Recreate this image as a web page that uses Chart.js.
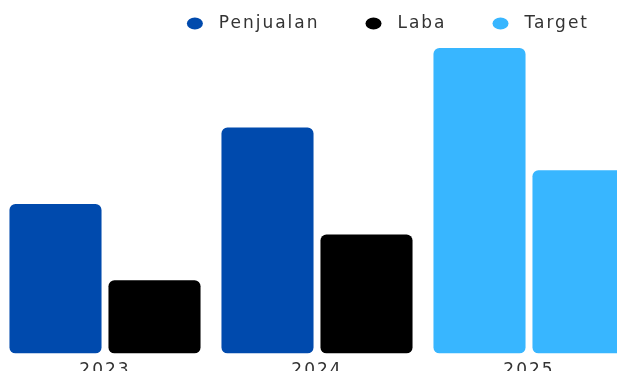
<!DOCTYPE html>
<html>
<head>
<meta charset="utf-8">
<script src="https://cdn.jsdelivr.net/npm/chart.js@4"></script>
<style>
  html, body { margin: 0; padding: 0; background: #fff; overflow: hidden; }
  /* chart is cropped on the left and right like the reference */
  #wrap { position: absolute; left: -1px; top: 0; }
</style>
</head>
<body>
<div id="wrap"><canvas id="salesChart" width="636" height="388"></canvas></div>
<script>
/* ─── DATA ─────────────────────────────────────────── */
const years       = ['2023', '2024', '2025'];
const penjualan   = [49, 74, 100];
const laba        = [24, 39, 60];
const targetYears = ['2025'];          // these years are shown as Target
const legendNames = ['Penjualan', 'Laba', 'Target'];

/* ─── COLORS ───────────────────────────────────────── */
const cPenjualan = '#004AAD';
const cLaba      = '#000000';
const cTarget    = '#38B6FF';
const cText      = '#333333';

// per-bar colors: target years get the light blue
const colorsFor = (base) => years.map(y => targetYears.includes(y) ? cTarget : base);

/* canvas letter spacing — reference font is wide */
const spacingPlugin = {
  id: 'spacing',
  beforeUpdate(chart) { chart.ctx.letterSpacing = '2px'; },
  beforeDraw(chart)   { chart.ctx.letterSpacing = '2px'; }
};

Chart.defaults.font.family = "'DejaVu Sans', sans-serif";
Chart.defaults.color = cText;

new Chart(document.getElementById('salesChart'), {
  type: 'bar',
  data: {
    labels: years,
    datasets: [
      {
        label: legendNames[0],
        data: penjualan,
        backgroundColor: colorsFor(cPenjualan),
        borderRadius: 6,
        borderSkipped: false,
        categoryPercentage: 0.934,
        barPercentage: 0.93
      },
      {
        label: legendNames[1],
        data: laba,
        backgroundColor: colorsFor(cLaba),
        borderRadius: 6,
        borderSkipped: false,
        categoryPercentage: 0.934,
        barPercentage: 0.93
      }
    ]
  },
  options: {
    responsive: false,
    animation: false,
    devicePixelRatio: 1,
    layout: { padding: { top: -31, left: 0, right: 0, bottom: 0 } },
    plugins: {
      tooltip: { enabled: false },
      legend: {
        display: true,
        position: 'top',
        align: 'end',
        labels: {
          usePointStyle: true,
          pointStyleWidth: 16,
          boxHeight: 8.5,
          padding: 46,
          color: cText,
          font: { size: 17 },
          generateLabels: () => [cPenjualan, cLaba, cTarget].map((c, i) => ({
            text: ' ' + legendNames[i],
            fillStyle: c,
            strokeStyle: c,
            lineWidth: 0,
            pointStyle: 'circle',
            hidden: false,
            fontColor: cText
          }))
        }
      }
    },
    scales: {
      x: {
        grid: { display: false, drawTicks: false },
        border: { display: false },
        ticks: { padding: 7, color: cText, font: { size: 17 } }
      },
      y: {
        display: false,
        min: 0,
        max: 102
      }
    }
  },
  plugins: [spacingPlugin]
});
</script>
</body>
</html>
